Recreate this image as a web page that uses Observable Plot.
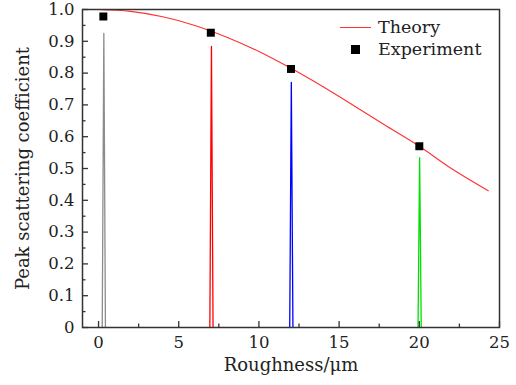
<!DOCTYPE html>
<html>
<head>
<meta charset="utf-8">
<script src="https://cdn.jsdelivr.net/npm/d3@7"></script>
<script src="https://cdn.jsdelivr.net/npm/@observablehq/plot@0.6"></script>
<style>
  html, body { margin: 0; padding: 0; background: #fff; }
  #wrap { position: relative; width: 516px; height: 385px; font-family: "DejaVu Serif", serif; }
  #legend { position: absolute; left: 335px; top: 16px; font-size: 17.5px; color: #222; line-height: 22px; }
  .row { display: flex; align-items: center; height: 22px; }
  .sw { width: 40px; display: flex; justify-content: center; align-items: center; margin-right: 3px; }
</style>
</head>
<body>
<div id="wrap"></div>
<script>
// Theory curve
const theoryX = [0, 2, 4, 6, 8, 10, 12, 14, 16, 18, 20, 22, 24.3];
const theoryY = [1.0, 0.994, 0.977, 0.95, 0.913, 0.868, 0.815, 0.757, 0.695, 0.632, 0.57, 0.50, 0.43];

// Experiment points
const expX = [0.3, 7.0, 12.0, 20.0];
const expY = [0.978, 0.927, 0.813, 0.570];

// Spectral spikes (narrow peaks)
const spikeName = ["s0", "s7", "s12", "s20"];
const spikeCenter = [0.33, 7.04, 12.02, 20.02];
const spikePeak = [0.925, 0.884, 0.771, 0.534];
const spikeHalfWidth = [0.1, 0.1, 0.1, 0.1];
const spikeColor = ["#8c8c8c", "#ff0000", "#0000ff", "#00e000"];

const xMajor = [0, 5, 10, 15, 20, 25];
const xMinor = [2.5, 7.5, 12.5, 17.5, 22.5];
const yMajor = [0, 0.1, 0.2, 0.3, 0.4, 0.5, 0.6, 0.7, 0.8, 0.9, 1.0];
const yMinor = [0.05, 0.15, 0.25, 0.35, 0.45, 0.55, 0.65, 0.75, 0.85, 0.95];

const theory = theoryX.map((x, i) => ({x, y: theoryY[i]}));
const exp = expX.map((x, i) => ({x, y: expY[i]}));
const spikes = [];
spikeName.forEach((n, i) => {
  spikes.push({s: n, x: spikeCenter[i] - spikeHalfWidth[i], y: 0});
  spikes.push({s: n, x: spikeCenter[i], y: spikePeak[i]});
  spikes.push({s: n, x: spikeCenter[i] + spikeHalfWidth[i], y: 0});
});

const W = 516, H = 385, ml = 82, mr = 17, mt = 9, mb = 58;
const pw = W - ml - mr, ph = H - mt - mb;

const chart = Plot.plot({
  width: W, height: H,
  marginLeft: ml, marginRight: mr, marginTop: mt, marginBottom: mb,
  style: {fontFamily: "DejaVu Serif", fontSize: "16px", color: "#222", background: "#fff"},
  x: {domain: [-1, 25]},
  y: {domain: [0, 1]},
  color: {domain: spikeName, range: spikeColor},
  marks: [
    Plot.line(spikes, {x: "x", y: "y", z: "s", stroke: "s", strokeWidth: 1.3, curve: "linear"}),
    Plot.line(theory, {x: "x", y: "y", stroke: "#ff3030", strokeWidth: 1.1, curve: "catmull-rom"}),
    Plot.dot(exp, {x: "x", y: "y", symbol: "square", fill: "#000", r: 4.5}),
    Plot.tickX(xMajor, {x: d => d, insetTop: ph - 6, stroke: "#333", strokeWidth: 1.3}),
    Plot.tickX(xMinor, {x: d => d, insetTop: ph - 3.5, stroke: "#333", strokeWidth: 1.3}),
    Plot.tickY(yMajor, {y: d => d, insetRight: pw - 6, stroke: "#333", strokeWidth: 1.3}),
    Plot.tickY(yMinor, {y: d => d, insetRight: pw - 3.5, stroke: "#333", strokeWidth: 1.3}),
    Plot.axisX(xMajor, {tickSize: 0, tickPadding: 9, label: null, fontSize: 16.5}),
    Plot.axisY(yMajor, {tickSize: 0, tickPadding: 8, label: null, fontSize: 16.5,
      tickFormat: d => d === 0 ? "0" : d.toFixed(1)}),
    Plot.frame({stroke: "#333", strokeWidth: 1.5}),
    Plot.text(["Roughness/μm"], {frameAnchor: "bottom", dy: 43, fontSize: 18, fill: "#222"}),
    Plot.text(["Peak scattering coefficient"], {frameAnchor: "left", textAnchor: "middle", rotate: -90, dx: -59, fontSize: 18, fill: "#222"})
  ]
});
const wrap = document.getElementById("wrap");
wrap.appendChild(chart);

const legend = document.createElement("div");
legend.id = "legend";
legend.innerHTML = `
  <div class="row"><span class="sw"><span style="display:inline-block;width:31px;height:0;border-top:1.3px solid #ff3030"></span></span><span>Theory</span></div>
  <div class="row"><span class="sw"><span style="display:inline-block;width:9px;height:9px;background:#000"></span></span><span>Experiment</span></div>`;
wrap.appendChild(legend);
</script>
</body>
</html>
